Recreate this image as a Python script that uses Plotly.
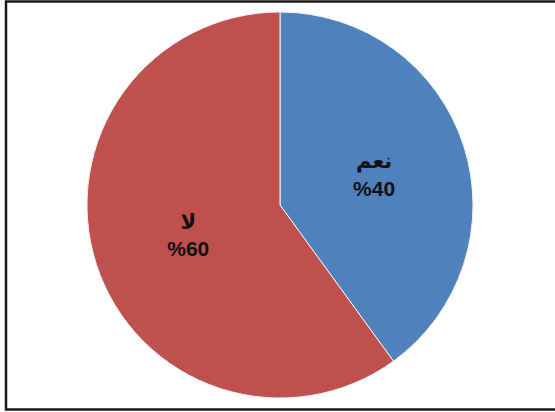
import plotly.graph_objects as go

# Survey answers and their shares (percent)
answers = ["نعم", "لا"]
shares = [40, 60]
share_labels = ["%40", "%60"]
slice_colors = ["#4F81BD", "#C0504D"]

W, H = 555, 412

fig = go.Figure(
    go.Pie(
        labels=answers,
        values=shares,
        customdata=share_labels,
        sort=False,
        direction="clockwise",
        rotation=0,
        marker=dict(colors=slice_colors, line=dict(color="#f2f2f2", width=1)),
        texttemplate="<b>%{label}</b><br><b>%{customdata}</b>",
        textposition="inside",
        insidetextorientation="horizontal",
        textfont=dict(family="Liberation Sans, DejaVu Sans, Arial", size=21, color="#111111"),
        hoverinfo="label+percent",
        domain=dict(x=[87 / W, 473 / W], y=[1 - 398 / H, 1 - 12 / H]),
        showlegend=False,
    )
)

# Chart frame (open on the right side, as the page crops it)
fig.add_shape(
    type="rect",
    xref="paper", yref="paper",
    x0=6 / W, x1=1.05, y0=2.5 / H, y1=1 - 1.5 / H,
    line=dict(color="#1a1a1a", width=2.5),
    fillcolor="rgba(0,0,0,0)",
)

fig.update_layout(
    width=W,
    height=H,
    margin=dict(l=0, r=0, t=0, b=0),
    paper_bgcolor="white",
    plot_bgcolor="white",
    uniformtext=dict(minsize=21, mode="show"),
)

fig.write_html("out.html")
